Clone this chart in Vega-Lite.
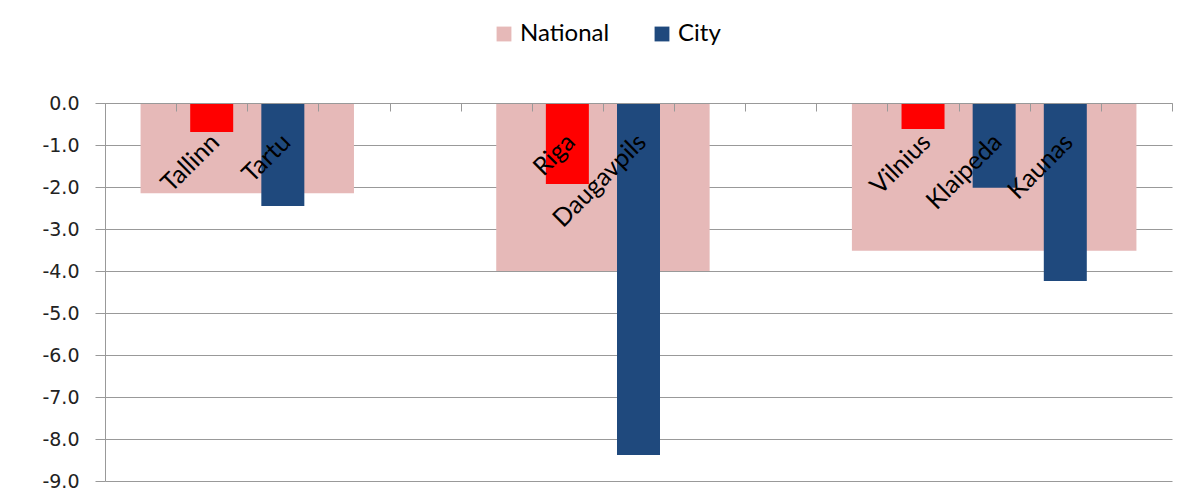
{
  "$schema": "https://vega.github.io/schema/vega-lite/v6.json",
  "width": 1067,
  "height": 378,
  "autosize": {"type": "none"},
  "padding": {"left": 105, "top": 103, "right": 26, "bottom": 21},
  "background": "white",
  "config": {
    "view": {"stroke": null},
    "font": "Lato",
    "locale": {"number": {"decimal": ".", "thousands": ",", "grouping": [3], "currency": ["$", ""], "minus": "-"}}
  },
  "datasets": {
    "national": [
      {"country": "Estonia", "from": 1, "to": 4, "value": -2.15, "type": "National"},
      {"country": "Latvia", "from": 6, "to": 9, "value": -4.0, "type": "National"},
      {"country": "Lithuania", "from": 11, "to": 15, "value": -3.52, "type": "National"}
    ],
    "cities": [
      {"city": "Tallinn", "slot": 2, "value": -0.69, "type": "Capital"},
      {"city": "Tartu", "slot": 3, "value": -2.45, "type": "City"},
      {"city": "Riga", "slot": 7, "value": -1.93, "type": "Capital"},
      {"city": "Daugavpils", "slot": 8, "value": -8.38, "type": "City"},
      {"city": "Vilnius", "slot": 12, "value": -0.62, "type": "Capital"},
      {"city": "Klaipeda", "slot": 13, "value": -2.02, "type": "City"},
      {"city": "Kaunas", "slot": 14, "value": -4.24, "type": "City"}
    ]
  },
  "layer": [
    {
      "data": {"name": "national"},
      "mark": {"type": "rect"},
      "encoding": {
        "x": {
          "field": "from", "type": "quantitative",
          "scale": {"domain": [0.5, 15.5], "nice": false, "zero": false, "padding": 0},
          "axis": {
            "orient": "top", "values": [0.5,1.5,2.5,3.5,4.5,5.5,6.5,7.5,8.5,9.5,10.5,11.5,12.5,13.5,14.5,15.5],
            "labels": false, "grid": false, "title": null, "tickSize": -8,
            "tickColor": "#999999", "domainColor": "#999999", "zindex": 1
          }
        },
        "x2": {"field": "to"},
        "y": {
          "field": "value", "type": "quantitative",
          "scale": {"domain": [-9, 0], "nice": false},
          "axis": {
            "values": [-9,-8,-7,-6,-5,-4,-3,-2,-1,0], "format": ".1f", "title": null,
            "labelFont": "DejaVu Sans", "labelFontSize": 19, "labelColor": "#222222",
            "tickSize": 10, "tickColor": "#999999", "domainColor": "#999999",
            "gridColor": "#999999", "labelPadding": 16
          }
        },
        "y2": {"datum": 0},
        "color": {
          "field": "type", "type": "nominal",
          "scale": {"domain": ["National", "Capital", "City"], "range": ["#E6B9B8", "#FF0000", "#1F497D"]},
          "legend": {
            "values": ["National", "City"], "title": null, "orient": "none",
            "direction": "horizontal", "legendX": 387, "legendY": -81,
            "symbolType": "square", "symbolSize": 220, "symbolStrokeWidth": 0,
            "labelFont": "Lato", "labelFontSize": 24, "labelColor": "#000000",
            "labelOffset": 4, "columnPadding": 40
          }
        }
      }
    },
    {
      "data": {"name": "cities"},
      "mark": {"type": "bar", "width": 43},
      "encoding": {
        "x": {"field": "slot", "type": "quantitative"},
        "y": {"field": "value", "type": "quantitative"},
        "color": {"field": "type", "type": "nominal"}
      }
    },
    {
      "data": {"name": "cities"},
      "mark": {"type": "text", "angle": 315, "align": "right", "baseline": "alphabetic", "dx": 13, "font": "Lato", "fontSize": 25, "color": "#000000"},
      "encoding": {
        "x": {"field": "slot", "type": "quantitative"},
        "y": {"datum": -1.19},
        "text": {"field": "city"}
      }
    }
  ]
}
